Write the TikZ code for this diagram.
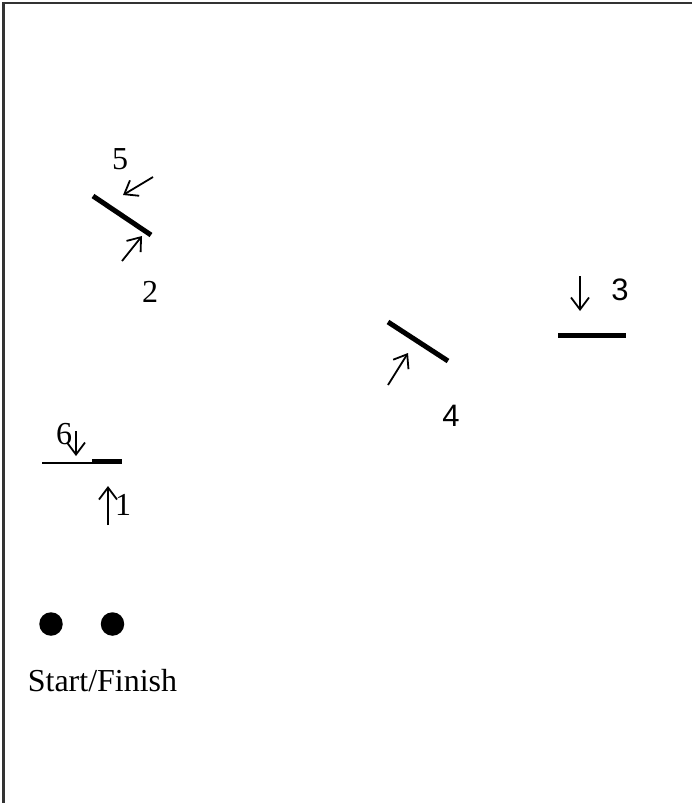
\documentclass[tikz,border=0pt]{standalone}
\usepackage{fontspec}
\setmainfont{Liberation Serif}
\newfontfamily\sansdigits{Liberation Sans}
\usetikzlibrary{arrows.meta}

\begin{document}
\begin{tikzpicture}[x=1pt, y=-1pt, every node/.style={font=\fontsize{32}{38}\selectfont, inner sep=0pt}, >={Straight Barb[length=12pt,width=18pt]},
	mirror/.style={line width=5pt}, beam/.style={->, line width=1.8pt}, dot/.style={circle, fill=black, minimum size=23.5pt}]
	\useasboundingbox (0,0) rectangle (692,803);
	\draw[line width=2.5pt, black!80] (3.5,803) -- (3.5,3) -- (692,3);
	% mirrors
	\draw[mirror] (93,196) -- (151,235);
	\draw[mirror] (388,322) -- (448,361);
	\draw[mirror] (558,335) -- (626,335);
	\draw[line width=2.6pt] (42,463) -- (92,463);
	\draw[mirror] (92,461.5) -- (122,461.5);
	% beams
	\coordinate (in5) at (153,177); \coordinate (at5) at (123,195);
	\coordinate (in2) at (122,261); \coordinate (at2) at (142,236);
	\coordinate (in4) at (388,385); \coordinate (at4) at (408,353);
	\coordinate (in3) at (580,276); \coordinate (at3) at (580,311);
	\coordinate (in6) at (76,431); \coordinate (at6) at (76,456);
	\coordinate (in1) at (108,525); \coordinate (at1) at (108,486);
	\foreach \b in {5,2,4,3,6,1} {\draw[beam] (in\b) -- (at\b);}
	% labels
	\node (lbl5) at (120,159) {5};
	\node (lbl2) at (150,292) {2};
	\node[font=\sansdigits\fontsize{31}{37}\selectfont] (lbl4) at (451,416) {4};
	\node[font=\sansdigits\fontsize{31}{37}\selectfont] (lbl3) at (620,290) {3};
	\node (lbl6) at (64,434) {6};
	\node (lbl1) at (123,505) {1};
	% start
	\node[dot] (startL) at (51,624) {};
	\node[dot] (startR) at (112.5,624) {};
	\node[anchor=base] (startlbl) at (102.5,691) {Start/Finish};
\end{tikzpicture}
\end{document}
